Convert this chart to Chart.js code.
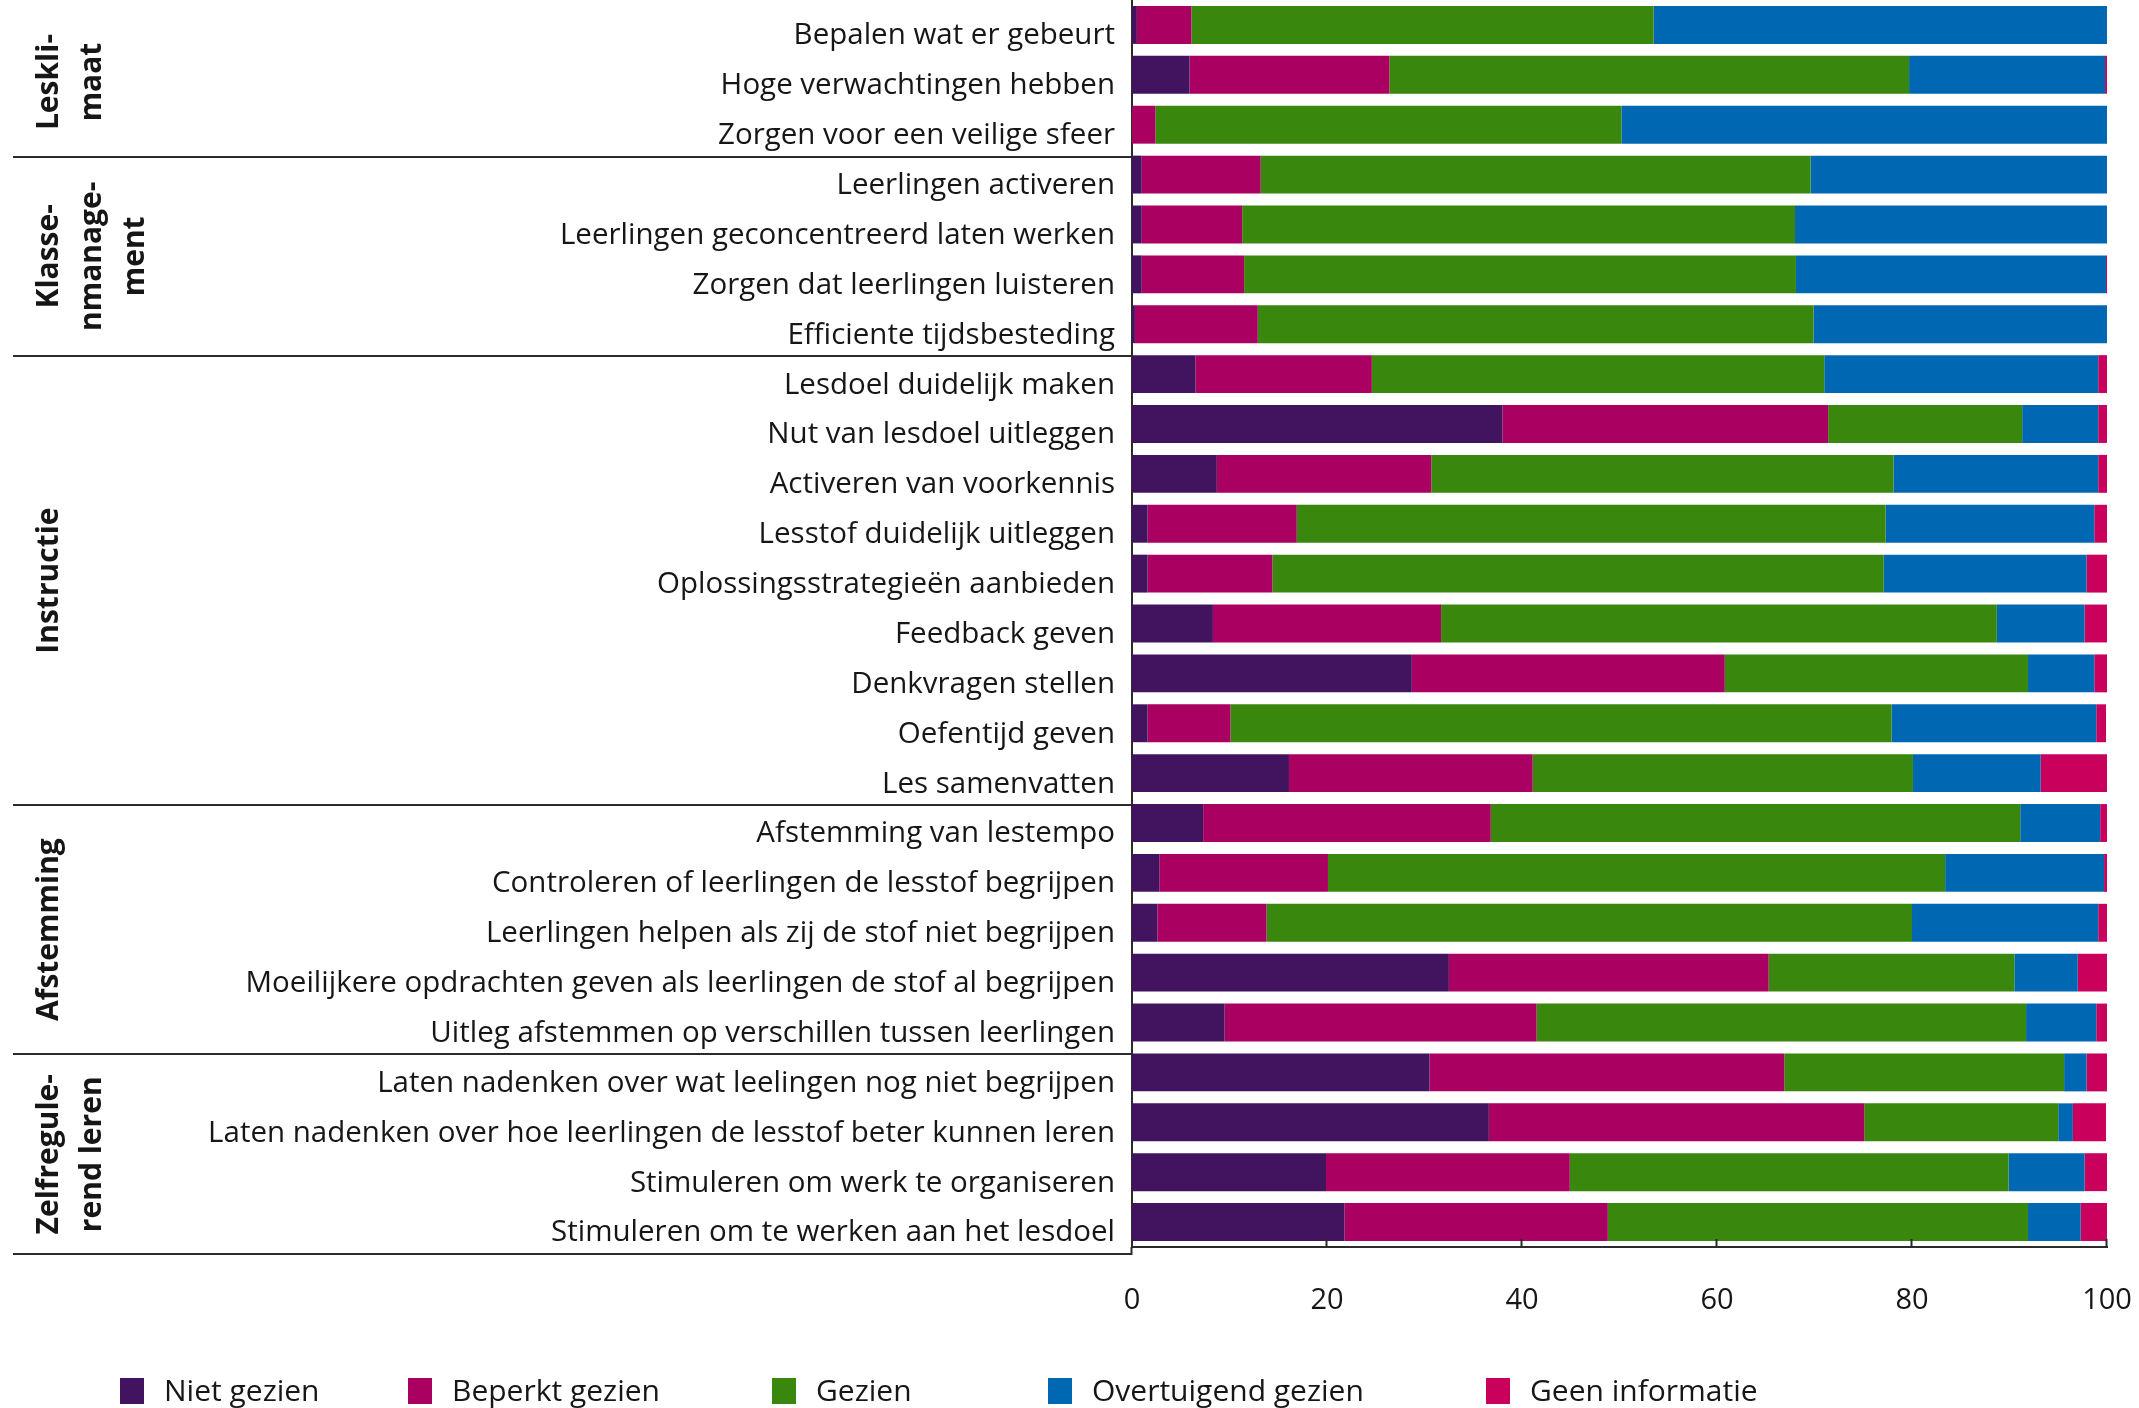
<!DOCTYPE html>
<html>
<head>
<meta charset="utf-8">
<script src="https://cdn.jsdelivr.net/npm/chart.js@4.4.1/dist/chart.umd.min.js"></script>
<style>
  html, body { margin: 0; padding: 0; background: #fff; }
  #wrap { width: 2139px; height: 1408px; }
</style>
</head>
<body>
<div id="wrap"><canvas id="lesChart" width="2139" height="1408"></canvas></div>
<script>
// categorieen (van boven naar beneden)
const CATEGORIES = [
  'Bepalen wat er gebeurt',
  'Hoge verwachtingen hebben',
  'Zorgen voor een veilige sfeer',
  'Leerlingen activeren',
  'Leerlingen geconcentreerd laten werken',
  'Zorgen dat leerlingen luisteren',
  'Efficiente tijdsbesteding',
  'Lesdoel duidelijk maken',
  'Nut van lesdoel uitleggen',
  'Activeren van voorkennis',
  'Lesstof duidelijk uitleggen',
  'Oplossingsstrategieën aanbieden',
  'Feedback geven',
  'Denkvragen stellen',
  'Oefentijd geven',
  'Les samenvatten',
  'Afstemming van lestempo',
  'Controleren of leerlingen de lesstof begrijpen',
  'Leerlingen helpen als zij de stof niet begrijpen',
  'Moeilijkere opdrachten geven als leerlingen de stof al begrijpen',
  'Uitleg afstemmen op verschillen tussen leerlingen',
  'Laten nadenken over wat leelingen nog niet begrijpen',
  'Laten nadenken over hoe leerlingen de lesstof beter kunnen leren',
  'Stimuleren om werk te organiseren',
  'Stimuleren om te werken aan het lesdoel'
];

// groepen links (regels van het gedraaide label) en aantal rijen per groep
const GROUP_NAMES = [
  ['Leskli-', 'maat'],
  ['Klasse-', 'nmanage-', 'ment'],
  ['Instructie'],
  ['Afstemming'],
  ['Zelfregule-', 'rend leren']
];
const GROUP_SIZES = [3, 4, 9, 5, 4];

// percentages per beoordeling
const NIET_GEZIEN = [0.5, 5.9, 0, 1.0, 1.0, 1.0, 0.3, 6.5, 38.0, 8.7, 1.6, 1.6, 8.3, 28.7, 1.6, 16.1, 7.3, 2.8, 2.6, 32.5, 9.5, 30.5, 36.6, 19.9, 21.8];
const BEPERKT_GEZIEN = [5.6, 20.5, 2.4, 12.2, 10.3, 10.5, 12.6, 18.1, 33.4, 22.0, 15.3, 12.8, 23.4, 32.1, 8.5, 25.0, 29.5, 17.3, 11.2, 32.8, 32.0, 36.4, 38.5, 25.0, 27.0];
const GEZIEN = [47.4, 53.3, 47.8, 56.4, 56.7, 56.6, 57.0, 46.4, 19.9, 47.4, 60.4, 62.7, 57.0, 31.1, 67.8, 39.0, 54.3, 63.3, 66.2, 25.2, 50.2, 28.7, 19.9, 45.0, 43.1];
const OVERTUIGEND_GEZIEN = [46.5, 20.1, 49.8, 30.4, 32.0, 31.8, 30.1, 28.1, 7.8, 21.0, 21.4, 20.8, 9.0, 6.8, 21.0, 13.1, 8.2, 16.3, 19.1, 6.5, 7.2, 2.3, 1.5, 7.8, 5.4];
const GEEN_INFORMATIE = [0, 0.2, 0, 0, 0, 0.1, 0, 0.9, 0.9, 0.9, 1.3, 2.1, 2.3, 1.3, 1.0, 6.8, 0.7, 0.3, 0.9, 3.0, 1.1, 2.1, 3.4, 2.3, 2.7];

const SERIES_LABELS = ['Niet gezien', 'Beperkt gezien', 'Gezien', 'Overtuigend gezien', 'Geen informatie'];
const X_TICKS = [0, 20, 40, 60, 80, 100];

// kleuren (Rijksoverheid-palet)
const COLORS = ['#42145f', '#a90061', '#39870c', '#0068b3', '#ca005d'];
const INK = '#161616';
const LINE = '#2b2b2b';
const FONT = '"Open Sans", "DejaVu Sans", sans-serif';

// legenda: vaste kolommen zoals in het origineel
const LEGEND_X = [120, 408, 772, 1048, 1486];

const PLOT_LEFT = 1132;
const PLOT_BOTTOM_GAP = 161;

const seriesData = [NIET_GEZIEN, BEPERKT_GEZIEN, GEZIEN, OVERTUIGEND_GEZIEN, GEEN_INFORMATIE];

// schaal-padding voor labels uitzetten, de layout staat vast
function noScalePadding(s) {
  s.paddingTop = 0;
  s.paddingBottom = 0;
  s.paddingLeft = 0;
  s.paddingRight = 0;
}

// --- plugin: groepslijnen, groepslabels, binnen-ticks en legenda ---
const decorPlugin = {
  id: 'decor',
  afterDraw(chart) {
    const ctx = chart.ctx;
    const yS = chart.scales.y;
    const xS = chart.scales.x;
    const area = chart.chartArea;
    const pitch = yS.getPixelForValue(1) - yS.getPixelForValue(0);
    const shift = 7;

    ctx.save();
    ctx.strokeStyle = LINE;
    ctx.lineWidth = 2;

    // binnen-ticks op de x-as
    X_TICKS.forEach(v => {
      if (v === 0) return;
      const px = Math.round(xS.getPixelForValue(v)) - 0.5;
      ctx.beginPath();
      ctx.moveTo(px, area.bottom);
      ctx.lineTo(px, area.bottom - 8);
      ctx.stroke();
    });

    // scheidingslijnen tussen groepen + labels
    let start = 0;
    GROUP_SIZES.forEach((n, gi) => {
      const yTop = yS.getPixelForValue(start) - pitch / 2 + shift;
      const yBot = yS.getPixelForValue(start + n - 1) + pitch / 2 + shift;
      const lineY = Math.round(Math.min(yBot, area.bottom + 8));
      ctx.beginPath();
      ctx.moveTo(13, lineY);
      ctx.lineTo(PLOT_LEFT, lineY);
      ctx.stroke();

      const cy = (Math.max(yTop, 0) + lineY) / 2;
      ctx.fillStyle = INK;
      ctx.font = 'bold 30px ' + FONT;
      ctx.textAlign = 'center';
      ctx.textBaseline = 'alphabetic';
      GROUP_NAMES[gi].forEach((txt, li) => {
        ctx.save();
        ctx.translate(58 + li * 43, cy);
        ctx.rotate(-Math.PI / 2);
        ctx.fillText(txt, 0, 0);
        ctx.restore();
      });
      start += n;
    });

    // y-as loopt door tot de onderste lijn
    ctx.beginPath();
    ctx.moveTo(PLOT_LEFT - 0.5, area.bottom);
    ctx.lineTo(PLOT_LEFT - 0.5, area.bottom + 8);
    ctx.stroke();

    // legenda
    ctx.font = '30px ' + FONT;
    ctx.textAlign = 'left';
    ctx.textBaseline = 'middle';
    chart.data.datasets.forEach((ds, i) => {
      const x = LEGEND_X[i];
      ctx.fillStyle = ds.backgroundColor;
      ctx.fillRect(x, 1378, 24, 26);
      ctx.fillStyle = INK;
      ctx.fillText(ds.label, x + 44, 1392);
    });
    ctx.restore();
  }
};

new Chart(document.getElementById('lesChart'), {
  type: 'bar',
  data: {
    labels: CATEGORIES,
    datasets: SERIES_LABELS.map((label, i) => ({
      label,
      data: seriesData[i],
      backgroundColor: COLORS[i],
      borderWidth: 0,
      barPercentage: 0.76,
      categoryPercentage: 1.0
    }))
  },
  options: {
    indexAxis: 'y',
    responsive: false,
    animation: false,
    layout: { padding: { top: -3, right: 32, left: 0, bottom: 0 } },
    plugins: {
      legend: { display: false },
      tooltip: { enabled: false }
    },
    scales: {
      x: {
        stacked: true,
        min: 0,
        max: 100,
        afterBuildTicks: s => { s.ticks = X_TICKS.map(v => ({ value: v })); },
        afterFit: s => { s.height = PLOT_BOTTOM_GAP; noScalePadding(s); },
        grid: { display: false, drawTicks: false },
        border: { display: true, color: LINE, width: 2 },
        ticks: {
          padding: 36,
          maxRotation: 0,
          color: INK,
          font: { family: FONT, size: 29 }
        }
      },
      y: {
        stacked: true,
        afterFit: s => { s.width = PLOT_LEFT; noScalePadding(s); },
        grid: { display: false, drawTicks: false },
        border: { display: true, color: LINE, width: 2 },
        ticks: {
          padding: 17,
          labelOffset: 11,
          autoSkip: false,
          color: INK,
          font: { family: FONT, size: 29.5 }
        }
      }
    }
  },
  plugins: [decorPlugin]
});
</script>
</body>
</html>
